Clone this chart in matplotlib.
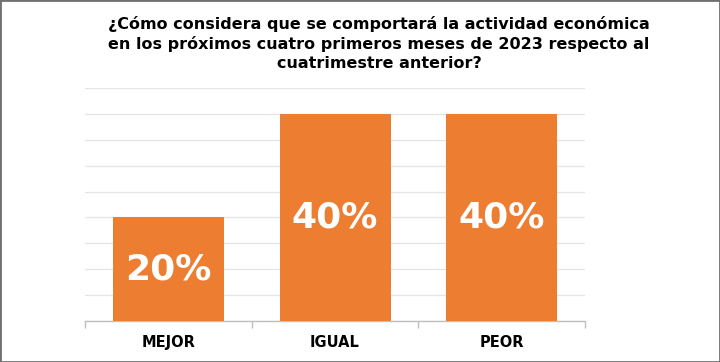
import matplotlib
matplotlib.use("Agg")
import matplotlib.pyplot as plt
from matplotlib.patches import Rectangle

categories = ["MEJOR", "IGUAL", "PEOR"]
values = [20, 40, 40]
labels = ["20%", "40%", "40%"]
title = ("¿Cómo considera que se comportará la actividad económica\n"
         "en los próximos cuatro primeros meses de 2023 respecto al\n"
         "cuatrimestre anterior?")

fig = plt.figure(figsize=(7.2, 3.62), dpi=100)
W, H = 720, 362
ax = fig.add_axes([85 / W, 1 - 320.7 / H, 500 / W, (320.7 - 88.3) / H])

x = list(range(len(categories)))
ax.bar(x, values, width=0.666, color="#ED7D31", zorder=3)
ax.set_xlim(-0.5, 2.5)
ax.set_ylim(0, 45)
ax.set_yticks(range(0, 46, 5))
ax.yaxis.grid(True, color="#e4e4e4", linewidth=0.9, zorder=0)
ax.tick_params(axis="y", left=False, labelleft=False)
for s in ["top", "right", "left"]:
    ax.spines[s].set_visible(False)
ax.spines["bottom"].set_color("#bfbfbf")
ax.spines["bottom"].set_linewidth(1.0)
ax.set_xticks([-0.5, 0.5, 1.5, 2.5])
ax.set_xticklabels([])
ax.tick_params(axis="x", which="major", length=5, color="#bfbfbf", width=1.0)
ax.set_xticks(x, minor=True)
ax.set_xticklabels(categories, minor=True, fontsize=10.5, fontweight="bold",
                   family="DejaVu Sans", color="#000000")
ax.tick_params(axis="x", which="minor", length=0, pad=10)

for xi, v, lab in zip(x, values, labels):
    ax.text(xi, v / 2, lab, ha="center", va="center", color="white",
            fontsize=26, fontweight="bold", family="DejaVu Sans", zorder=4)

fig.text(379 / W, 1 - 43.5 / H, title, ha="center", va="center",
         fontsize=11.5, fontweight="bold", family="DejaVu Sans",
         linespacing=1.32, color="#000000")

fig.patches.append(Rectangle((0, 0), 1, 1, transform=fig.transFigure,
                             fill=False, edgecolor="#707070", linewidth=2))

fig.savefig("out.png", dpi=100)
